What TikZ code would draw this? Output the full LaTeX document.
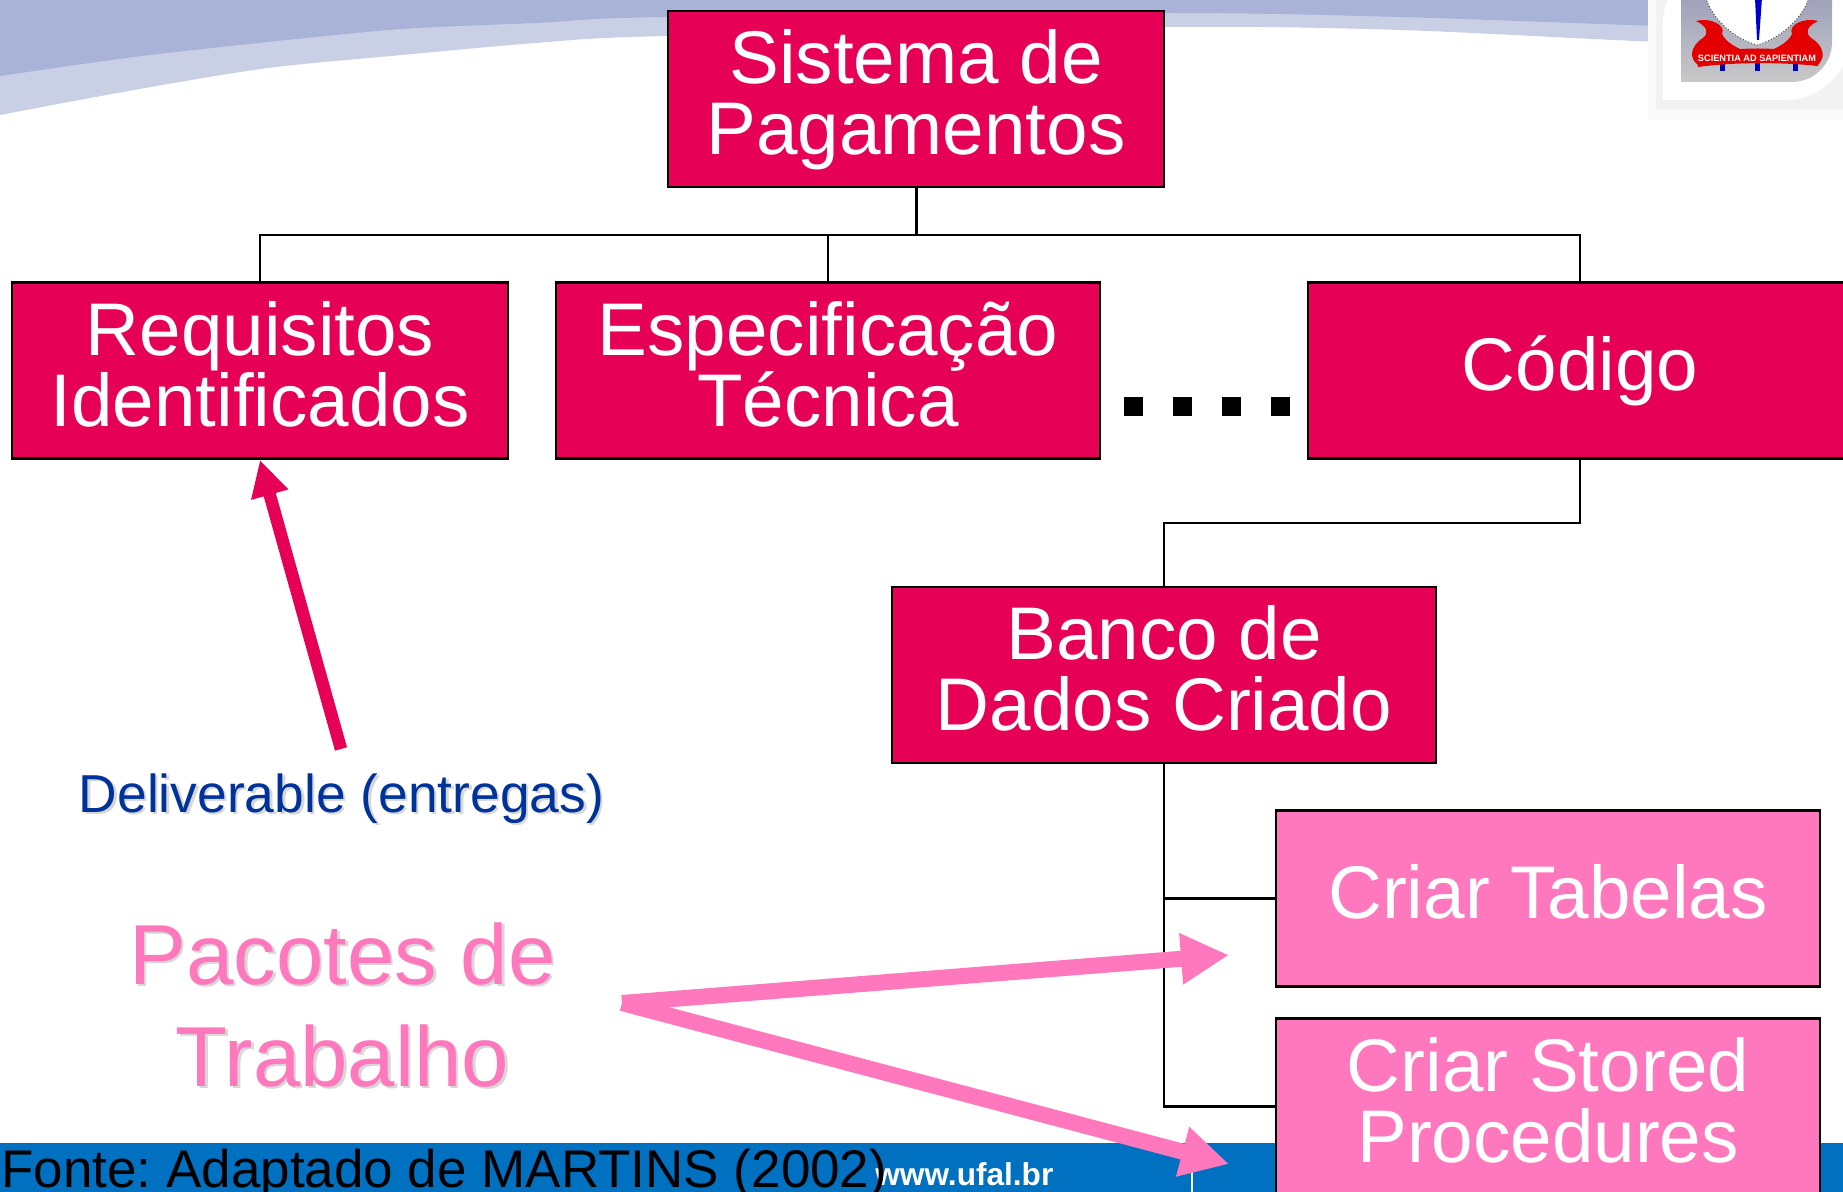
\documentclass[tikz,border=0pt]{standalone}
\usepackage{fontspec}
\setmainfont{Liberation Sans}
\usetikzlibrary{arrows.meta}
\frenchspacing

\newcommand{\softshadow}[1]{\rlap{\hspace{1.25pt}\raisebox{-1.25pt}{\textcolor{text_shadow_color}{#1}}}#1}

\tikzset{
  wbs_box/.style={draw=black, line width=1.25pt, text=white, inner sep=0pt, minimum height=88pt, text depth=7pt, align=center, font=\fontsize{37.3}{35.5}\selectfont},
  deliverable_box/.style={wbs_box, fill=deliverable_color},
  package_box/.style={wbs_box, fill=package_color},
  tree_line/.style={line width=1.25pt, draw=black},
  dot_mark/.style={fill=black, inner sep=0pt, minimum size=9.5pt},
  red_arrow/.style={line width=6.25pt, draw=deliverable_color, -{Triangle[length=18pt,width=18pt]}},
  pink_arrow/.style={line width=8pt, draw=package_color, -{Triangle[length=24pt,width=24pt]}},
}

\begin{document}
\begin{tikzpicture}[x=0.5pt, y=-0.5pt]
\definecolor{deliverable_color}{RGB}{230,0,86}
\definecolor{package_color}{RGB}{255,120,190}
\definecolor{band_color}{RGB}{0,112,192}
\definecolor{swoosh_dark_color}{RGB}{169,179,215}
\definecolor{swoosh_light_color}{RGB}{201,207,229}
\definecolor{deliverable_text_color}{RGB}{0,51,153}
\definecolor{text_shadow_color}{RGB}{215,215,215}
\definecolor{crest_top_color}{RGB}{130,136,176}
\definecolor{crest_bottom_color}{RGB}{200,200,200}

\useasboundingbox (0,0) rectangle (1843,1192);
\fill[white] (0,0) rectangle (1843,1192);

% top swoosh
\fill[swoosh_light_color] (0,0) -- plot[smooth] coordinates {(0,115) (134,90) (268,68) (402,55) (536,43) (665,36) (1165,27) (1400,30) (1660,42) (1843,46)} -- (1843,0) -- cycle;
\fill[swoosh_dark_color] (0,0) -- plot[smooth] coordinates {(0,76) (134,57) (268,42) (402,29) (536,23) (665,17) (1165,13) (1400,17) (1660,26) (1843,30)} -- (1843,0) -- cycle;

% crest in the corner
\fill[black!2] (1648,-30) rectangle (1860,120);
\fill[black!5] (1656,-30) rectangle (1860,110);
\fill[white] (1663,-40) -- (1663,100) [rounded corners=32] -- (1850,100) -- (1850,-40) -- cycle;
\shade[top color=crest_top_color, bottom color=crest_bottom_color] (1681,-60) -- (1681,82) [rounded corners=20] -- (1832,82) -- (1832,-60) -- cycle;
\fill[white, draw=black!70, densely dotted, line width=0.5pt] (1705,-5) .. controls (1712,22) and (1738,40) .. (1757,45) .. controls (1776,40) and (1802,22) .. (1810,-5) -- cycle;
\fill[blue!80!black] (1755,-2) -- (1762,-2) -- (1759,40) -- (1757,40) -- cycle;
\fill[blue!70!black] (1720,62) rectangle (1725,71);
\fill[blue!70!black] (1755,62) rectangle (1760,71);
\fill[blue!70!black] (1793,62) rectangle (1798,71);
% birds and banner
\fill[red!90!black] (1696,21) .. controls (1712,17) and (1726,26) .. (1722,34) .. controls (1726,42) and (1734,46) .. (1742,50) -- (1700,66) .. controls (1688,60) and (1690,46) .. (1703,38) .. controls (1710,32) and (1706,26) .. (1696,21) -- cycle;
\fill[red!90!black] (1818,21) .. controls (1802,17) and (1788,26) .. (1792,34) .. controls (1788,42) and (1780,46) .. (1772,50) -- (1816,66) .. controls (1826,60) and (1825,46) .. (1811,38) .. controls (1804,32) and (1808,26) .. (1818,21) -- cycle;
\fill[red!90!black] (1696,56) .. controls (1735,46) and (1780,46) .. (1820,56) -- (1818,66) .. controls (1780,62) and (1735,62) .. (1698,67) -- cycle;
\node[inner sep=0pt, text=white, font=\fontsize{4.6}{5}\selectfont\bfseries] (crest_motto) at (1757,58) {SCIENTIA AD SAPIENTIAM};

% footer band
\fill[band_color] (0,1143) rectangle (1843,1192);
\draw[white, line width=1pt] (1192,1170) -- (1192,1192);

% boxes
\node[deliverable_box, minimum width=248pt] (sistema) at (916,99) {Sistema de\\Pagamentos};
\node[deliverable_box, minimum width=248pt] (requisitos) at (260,370.5) {Requisitos\\Identificados};
\node[deliverable_box, minimum width=272pt] (especificacao) at (828,370.5) {Especificação\\Técnica};
\node[deliverable_box, minimum width=272pt] (codigo) at (1580,370.5) {Código};
\node[deliverable_box, minimum width=272pt] (banco) at (1164,675) {Banco de\\Dados Criado};
\node[package_box, minimum width=272pt] (tabelas) at (1548,898.5) {Criar Tabelas};
\node[package_box, minimum width=272pt] (stored) at (1548,1106.5) {Criar Stored\\Procedures};

% tree
\coordinate (top_bus) at (916,235);
\coordinate (code_bus) at (1164,523);
\draw[tree_line, line width=1.5pt] (sistema.south) -- (top_bus);
\draw[tree_line] (top_bus) -| (requisitos.north);
\draw[tree_line] (top_bus) -| (especificacao.north);
\draw[tree_line] (top_bus) -| (codigo.north);
\draw[tree_line] (codigo.south) |- (code_bus) -- (banco.north);
\draw[tree_line] (banco.south) |- (tabelas.west);
\draw[tree_line] (banco.south) |- (stored.west);

\foreach \dotx [count=\doti] in {1133.5,1182.5,1231.5,1280.5} {
  \node[dot_mark] (dot\doti) at (\dotx,406.5) {};
}

% notes on the left
\node[inner sep=0pt, text=deliverable_text_color, anchor=base, font=\fontsize{26.7}{30}\selectfont] (deliverable) at (341.5,812) {\softshadow{Deliverable (entregas)}};
\node[inner sep=0pt, text=package_color, align=center, anchor=base, font=\fontsize{42.6}{51}\selectfont] (pacotes) at (342.5,1086) {\softshadow{Pacotes de}\\\softshadow{Trabalho}};

\coordinate (deliverable_tail) at (341,749);
\coordinate (requisitos_tip) at (260,460);
\coordinate (pacotes_tail) at (622,1003);
\coordinate (tabelas_tip) at (1229,955);
\coordinate (stored_tip) at (1229,1164);
\draw[red_arrow] (deliverable_tail) -- (requisitos_tip);
\draw[pink_arrow] (pacotes_tail) -- (tabelas_tip);
\draw[pink_arrow] (pacotes_tail) -- (stored_tip);

% footer texts
\node[inner sep=0pt, text=white, anchor=base west, font=\fontsize{15.8}{18}\selectfont\bfseries] (site) at (875,1185) {www.ufal.br};
\node[inner sep=0pt, text=black, anchor=base west, font=\fontsize{26.5}{30}\selectfont] (fonte) at (1,1187) {Fonte: Adaptado de MARTINS (2002)};

\end{tikzpicture}
\end{document}
